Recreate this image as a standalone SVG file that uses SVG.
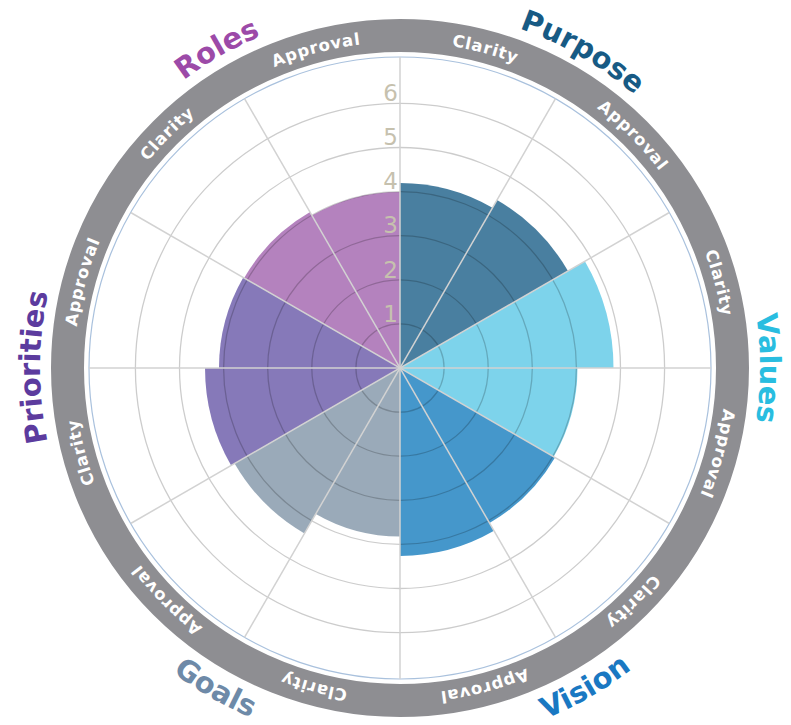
<svg xmlns="http://www.w3.org/2000/svg" width="791" height="725" viewBox="0 0 791 725">
<style>
.grid{fill:none;stroke:#000;stroke-opacity:0.2;stroke-width:1.3}
.spoke{stroke:#d2d2d2;stroke-width:1.5}
.ring{font-family:"DejaVu Sans","Liberation Sans",sans-serif;font-weight:bold;font-size:16.5px;fill:#ffffff;letter-spacing:0.8px}
.title{font-family:"DejaVu Sans","Liberation Sans",sans-serif;font-weight:bold;font-size:29px}
.num{font-family:"DejaVu Sans","Liberation Sans",sans-serif;font-size:23px;fill:#c6c1ae;text-anchor:end}
</style>
<defs>
<path id="ringPath" d="M400,42 A326,326 0 0 1 400,694 A326,326 0 0 1 400,42"/>
<path id="cwPath" d="M400,8 A360,360 0 0 1 400,728 A360,360 0 0 1 400,8"/>
<path id="ccwPath" d="M400,-12 A380,380 0 0 0 400,748 A380,380 0 0 0 400,-12"/>
</defs>
<rect width="791" height="725" fill="#ffffff"/>
<circle id="outer-band" cx="400" cy="368" r="332.5" fill="none" stroke="#8e8e92" stroke-width="33"/>
<circle cx="400" cy="368" r="311" fill="none" stroke="#a9c1dd" stroke-width="1.2"/>
<g id="sectors">
<g id="purpose-clarity"><path d="M400,368 L400,183 A185,185 0 0 1 492.5,207.79 Z" fill="#497fa0"/></g>
<g id="purpose-approval"><path d="M400,368 L497,199.99 A194,194 0 0 1 568.01,271 Z" fill="#497fa0"/></g>
<g id="values-clarity"><path d="M400,368 L584.9,261.25 A213.5,213.5 0 0 1 613.5,368 Z" fill="#7dd3eb"/></g>
<g id="values-approval"><path d="M400,368 L577.5,368 A177.5,177.5 0 0 1 553.72,456.75 Z" fill="#7dd3eb"/></g>
<g id="vision-clarity"><path d="M400,368 L555.02,457.5 A179,179 0 0 1 489.5,523.02 Z" fill="#4597cb"/></g>
<g id="vision-approval"><path d="M400,368 L494,530.81 A188,188 0 0 1 400,556 Z" fill="#4597cb"/></g>
<g id="goals-clarity"><path d="M400,368 L400,536.5 A168.5,168.5 0 0 1 315.75,513.92 Z" fill="#9aaab9"/></g>
<g id="goals-approval"><path d="M400,368 L304.5,533.41 A191,191 0 0 1 234.59,463.5 Z" fill="#9aaab9"/></g>
<g id="priorities-clarity"><path d="M400,368 L231.13,465.5 A195,195 0 0 1 205,368 Z" fill="#8679b9"/></g>
<g id="priorities-approval"><path d="M400,368 L219,368 A181,181 0 0 1 243.25,277.5 Z" fill="#8679b9"/></g>
<g id="roles-clarity"><path d="M400,368 L244.12,278 A180,180 0 0 1 310,212.12 Z" fill="#b482be"/></g>
<g id="roles-approval"><path d="M400,368 L312,215.58 A176,176 0 0 1 400,192 Z" fill="#b482be"/></g>
</g>
<g id="grid">
<circle class="grid" cx="400" cy="368" r="44.1"/>
<circle class="grid" cx="400" cy="368" r="88.2"/>
<circle class="grid" cx="400" cy="368" r="132.3"/>
<circle class="grid" cx="400" cy="368" r="176.4"/>
<circle class="grid" cx="400" cy="368" r="220.5"/>
<circle class="grid" cx="400" cy="368" r="264.6"/>
</g>
<g id="connectors">
<line class="spoke" x1="400" y1="57" x2="400" y2="679"/>
<line class="spoke" x1="555.5" y1="98.67" x2="244.5" y2="637.33"/>
<line class="spoke" x1="669.33" y1="212.5" x2="130.67" y2="523.5"/>
<line class="spoke" x1="711" y1="368" x2="89" y2="368"/>
<line class="spoke" x1="669.33" y1="523.5" x2="130.67" y2="212.5"/>
<line class="spoke" x1="555.5" y1="637.33" x2="244.5" y2="98.67"/>
</g>
<g id="scale">
<text class="num" x="398" y="321.5">1</text>
<text class="num" x="398" y="277.5">2</text>
<text class="num" x="398" y="233.3">3</text>
<text class="num" x="398" y="189.2">4</text>
<text class="num" x="398" y="145">5</text>
<text class="num" x="398" y="101">6</text>
</g>
<g id="ring-labels" class="ring" text-anchor="middle">
<text><textPath href="#ringPath" startOffset="85.35">Clarity</textPath></text>
<text><textPath href="#ringPath" startOffset="256.04">Approval</textPath></text>
<text><textPath href="#ringPath" startOffset="426.73">Clarity</textPath></text>
<text><textPath href="#ringPath" startOffset="597.42">Approval</textPath></text>
<text><textPath href="#ringPath" startOffset="768.1">Clarity</textPath></text>
<text><textPath href="#ringPath" startOffset="938.8">Approval</textPath></text>
<text><textPath href="#ringPath" startOffset="1109.5">Clarity</textPath></text>
<text><textPath href="#ringPath" startOffset="1280.2">Approval</textPath></text>
<text><textPath href="#ringPath" startOffset="1450.9">Clarity</textPath></text>
<text><textPath href="#ringPath" startOffset="1621.6">Approval</textPath></text>
<text><textPath href="#ringPath" startOffset="1792.3">Clarity</textPath></text>
<text><textPath href="#ringPath" startOffset="1963">Approval</textPath></text>
</g>
<g id="titles" class="title" text-anchor="middle">
<g id="title-purpose"><text fill="#175a84"><textPath href="#cwPath" startOffset="188.5">Purpose</textPath></text></g>
<g id="title-values"><text fill="#29bde0"><textPath href="#cwPath" startOffset="565.5">Values</textPath></text></g>
<g id="title-vision"><text fill="#1a78c2"><textPath href="#ccwPath" startOffset="1392.7">Vision</textPath></text></g>
<g id="title-goals"><text fill="#6e8aa8"><textPath href="#ccwPath" startOffset="994.8">Goals</textPath></text></g>
<g id="title-priorities"><text fill="#5c3b9e"><textPath href="#cwPath" startOffset="1696.5">Priorities</textPath></text></g>
<g id="title-roles"><text fill="#9c4aa8"><textPath href="#cwPath" startOffset="2073.5">Roles</textPath></text></g>
</g>
</svg>
